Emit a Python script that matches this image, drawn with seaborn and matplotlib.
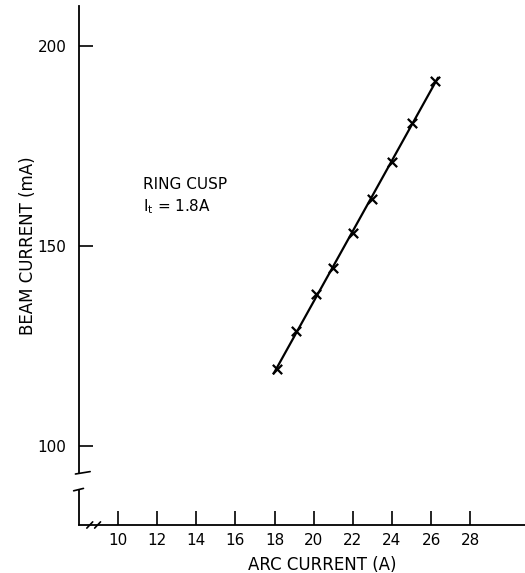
import numpy as np
import pandas as pd
import matplotlib
matplotlib.use("Agg")
import matplotlib.pyplot as plt
import matplotlib.transforms as mtransforms
import seaborn as sns

# data
arc_current = [18.1, 19.1, 20.1, 21.0, 22.0, 23.0, 24.0, 25.0, 26.2]
beam_current = [119.2, 128.8, 138.0, 144.4, 153.2, 161.8, 170.9, 180.7, 191.3]
x_ticks = [10, 12, 14, 16, 18, 20, 22, 24, 26, 28]
y_ticks = [100, 150, 200]

df = pd.DataFrame({"arc": arc_current, "beam": beam_current})

# straight line fit through the points
slope, icpt = np.polyfit(df["arc"], df["beam"], 1)
fit_x = np.array([df["arc"].min() - 0.15, df["arc"].max() + 0.15])
fit = pd.DataFrame({"arc": fit_x, "beam": slope * fit_x + icpt})

sns.set_style("white")
plt.rcParams["font.family"] = ["DejaVu Sans"]
plt.rcParams["text.color"] = "black"
plt.rcParams["axes.labelcolor"] = "black"

fig = plt.figure(figsize=(5.25, 5.73), dpi=100)
ax = fig.add_axes([79 / 525, 1 - 525 / 573, 1 - 79 / 525, 519 / 573])

sns.lineplot(data=fit, x="arc", y="beam", color="black", linewidth=1.6, ax=ax)
sns.scatterplot(data=df, x="arc", y="beam", marker="x", color="black",
                s=45, linewidth=1.6, ax=ax, zorder=3)

ax.set_xlim(8.0, 30.8)
ax.set_ylim(80.25, 210)
ax.set_xticks(x_ticks)
ax.set_yticks(y_ticks)
ax.tick_params(direction="in", length=10, width=1.2, colors="black",
               labelsize=11, bottom=True, left=True)
ax.tick_params(axis="x", pad=6)
ax.tick_params(axis="y", pad=9)

for s in ["top", "right"]:
    ax.spines[s].set_visible(False)
for s in ["left", "bottom"]:
    ax.spines[s].set_color("black")
    ax.spines[s].set_linewidth(1.3)

# broken y axis
ax.spines["left"].set_bounds(93.3, 210)
yt = mtransforms.blended_transform_factory(ax.transAxes, ax.transData)
ax.plot([0, 0], [80.25, 89], color="black", lw=1.3, transform=yt, clip_on=False)
ax.plot([-0.008, 0.025], [93.0, 93.6], color="black", lw=1.2, transform=yt, clip_on=False)
ax.plot([-0.012, 0.01], [88.8, 89.4], color="black", lw=1.2, transform=yt, clip_on=False)

# break marks on x axis
xt = mtransforms.blended_transform_factory(ax.transData, ax.transAxes)
for bx in [8.55, 8.95]:
    ax.plot([bx - 0.15, bx + 0.15], [-0.006, 0.006], color="black", lw=1.2,
            transform=xt, clip_on=False)

ax.set_xlabel("ARC CURRENT (A)", fontsize=12)
ax.set_ylabel("BEAM CURRENT (mA)", fontsize=12)
ax.xaxis.set_label_coords(0.545, -0.06)
ax.yaxis.set_label_coords(-0.115, 0.0, transform=yt)
ax.yaxis.label.set_y(150)
ax.yaxis.label.set_va("center")

ax.text(11.25, 165.3, "RING CUSP", fontsize=11, va="center")
ax.text(11.25, 159.8, r"I$_\mathrm{t}$ = 1.8A", fontsize=11, va="center")

fig.savefig("out.png", dpi=100)
